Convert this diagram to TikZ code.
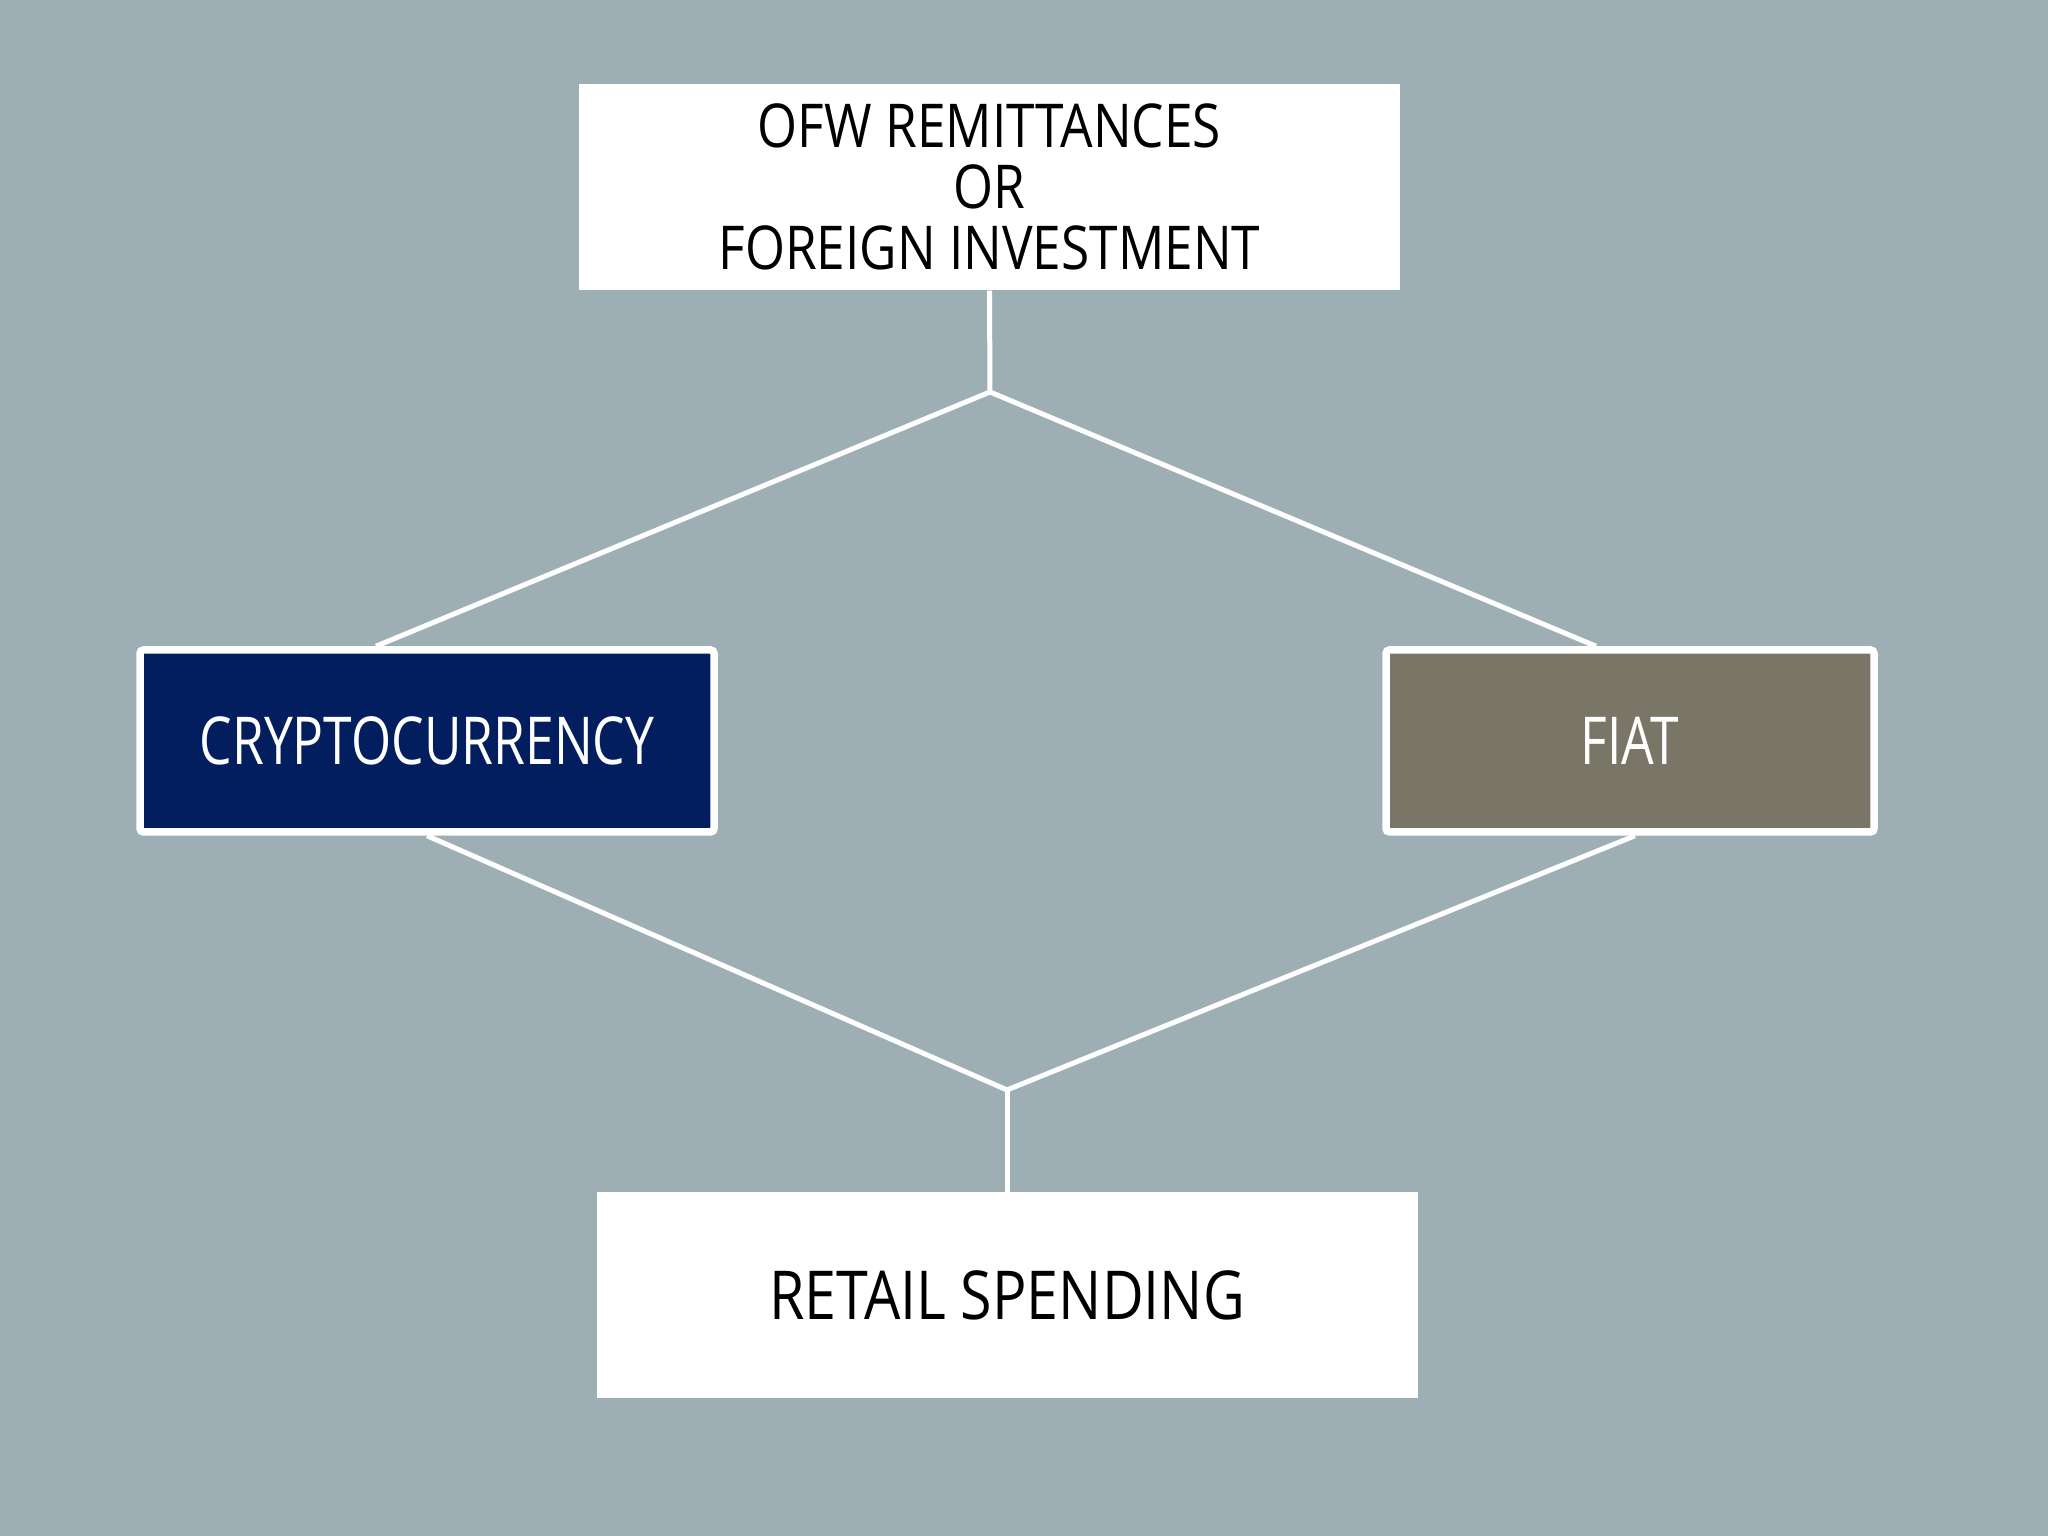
\documentclass[tikz,border=0pt]{standalone}
\usepackage{fontspec}
\setmainfont{Open Sans}[FakeStretch=0.78]
\newfontfamily\boxfont{Open Sans}[FakeStretch=0.85]
\usetikzlibrary{positioning}

\definecolor{slidebg}{HTML}{9DAFB5}
\definecolor{cryptoblue}{HTML}{021E5F}
\definecolor{fiatgray}{HTML}{7A7667}

\begin{document}
\begin{tikzpicture}[
		box/.style={rectangle,fill=white,minimum width=8.21cm,minimum height=2.06cm,inner sep=0pt,align=center,font=\boxfont\fontsize{17.2}{17.4}\selectfont},
		coin/.style={rectangle,draw=white,line width=0.075cm,rounded corners=1pt,minimum height=1.82cm,inner sep=0pt,text=white,font=\fontsize{18.8}{20}\selectfont},
		link/.style={white,line width=0.05cm}]
		\fill[slidebg] (0,0) rectangle (20.48,15.36);
		\useasboundingbox (0,0) rectangle (20.48,15.36);
		
		\node[box] (source) at (9.895,13.49) {OFW REMITTANCES\\OR\\FOREIGN INVESTMENT};
		
		\node[coin,fill=cryptoblue,minimum width=5.74cm] (crypto) at (4.27,7.95) {CRYPTOCURRENCY};
		\node[coin,fill=fiatgray,minimum width=4.88cm] (fiat) at (16.30,7.95) {FIAT};
		
		\node[box,font=\boxfont\fontsize{19.2}{20}\selectfont] (retail) at (10.07,2.405) {RETAIL SPENDING};
		
		\coordinate (split) at (9.90,11.44);
		\coordinate (merge) at (10.07,4.46);
		
		\draw[link] (source.south) -- (split);
		\draw[link] (split) -- ([xshift=-5.1mm]crypto.north);
		\draw[link] (split) -- ([xshift=-3.4mm]fiat.north);
		
		\draw[link] (crypto.south) -- (merge);
		\draw[link] ([xshift=0.5mm]fiat.south) -- (merge);
		\draw[link] (merge) -- (retail.north);
	\end{tikzpicture}
\end{document}
